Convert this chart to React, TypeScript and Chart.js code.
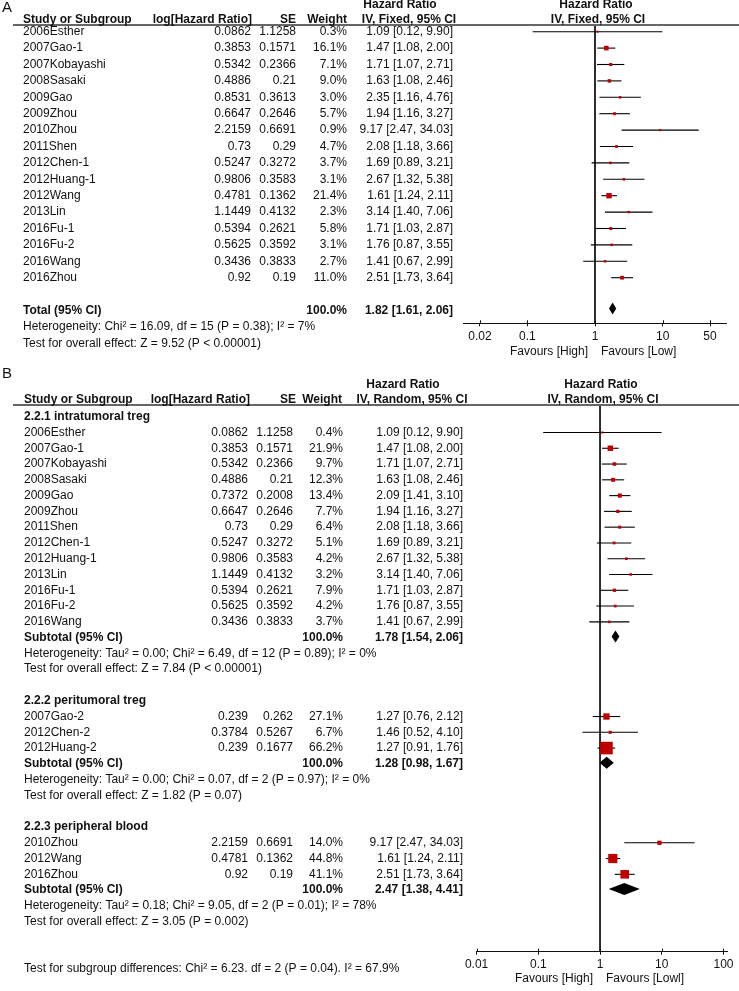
import React, { useEffect, useRef } from "react";
import { Chart, registerables } from "chart.js";
Chart.register(...registerables);

const FONT = "'Liberation Sans', Arial, Helvetica, sans-serif";
const INK = "#111111";
const RED = "#c00000";

// ---------- Panel A: IV, Fixed ----------
const studiesA = ["2006Esther", "2007Gao-1", "2007Kobayashi", "2008Sasaki", "2009Gao", "2009Zhou", "2010Zhou", "2011Shen", "2012Chen-1", "2012Huang-1", "2012Wang", "2013Lin", "2016Fu-1", "2016Fu-2", "2016Wang", "2016Zhou"];
const logHrA = [0.0862, 0.3853, 0.5342, 0.4886, 0.8531, 0.6647, 2.2159, 0.73, 0.5247, 0.9806, 0.4781, 1.1449, 0.5394, 0.5625, 0.3436, 0.92];
const seA = [1.1258, 0.1571, 0.2366, 0.21, 0.3613, 0.2646, 0.6691, 0.29, 0.3272, 0.3583, 0.1362, 0.4132, 0.2621, 0.3592, 0.3833, 0.19];
const weightA = [0.3, 16.1, 7.1, 9.0, 3.0, 5.7, 0.9, 4.7, 3.7, 3.1, 21.4, 2.3, 5.8, 3.1, 2.7, 11.0];
const hrA = [1.09, 1.47, 1.71, 1.63, 2.35, 1.94, 9.17, 2.08, 1.69, 2.67, 1.61, 3.14, 1.71, 1.76, 1.41, 2.51];
const loA = [0.12, 1.08, 1.07, 1.08, 1.16, 1.16, 2.47, 1.18, 0.89, 1.32, 1.24, 1.40, 1.03, 0.87, 0.67, 1.73];
const hiA = [9.90, 2.00, 2.71, 2.46, 4.76, 3.27, 34.03, 3.66, 3.21, 5.38, 2.11, 7.06, 2.87, 3.55, 2.99, 3.64];
const totalA = [1.82, 1.61, 2.06];
const hetA = "Heterogeneity: Chi² = 16.09, df = 15 (P = 0.38); I² = 7%";
const effectA = "Test for overall effect: Z = 9.52 (P < 0.00001)";
const ticksA = [0.02, 0.1, 1, 10, 50];
const tickLabelsA = ["0.02", "0.1", "1", "10", "50"];

// ---------- Panel B: IV, Random, by subgroup ----------
const groupNamesB = ["2.2.1 intratumoral treg", "2.2.2 peritumoral treg", "2.2.3 peripheral blood"];
const groupB = [0, 0, 0, 0, 0, 0, 0, 0, 0, 0, 0, 0, 0, 1, 1, 1, 2, 2, 2];
const studiesB = ["2006Esther", "2007Gao-1", "2007Kobayashi", "2008Sasaki", "2009Gao", "2009Zhou", "2011Shen", "2012Chen-1", "2012Huang-1", "2013Lin", "2016Fu-1", "2016Fu-2", "2016Wang", "2007Gao-2", "2012Chen-2", "2012Huang-2", "2010Zhou", "2012Wang", "2016Zhou"];
const logHrB = [0.0862, 0.3853, 0.5342, 0.4886, 0.7372, 0.6647, 0.73, 0.5247, 0.9806, 1.1449, 0.5394, 0.5625, 0.3436, 0.239, 0.3784, 0.239, 2.2159, 0.4781, 0.92];
const seB = [1.1258, 0.1571, 0.2366, 0.21, 0.2008, 0.2646, 0.29, 0.3272, 0.3583, 0.4132, 0.2621, 0.3592, 0.3833, 0.262, 0.5267, 0.1677, 0.6691, 0.1362, 0.19];
const weightB = [0.4, 21.9, 9.7, 12.3, 13.4, 7.7, 6.4, 5.1, 4.2, 3.2, 7.9, 4.2, 3.7, 27.1, 6.7, 66.2, 14.0, 44.8, 41.1];
const hrB = [1.09, 1.47, 1.71, 1.63, 2.09, 1.94, 2.08, 1.69, 2.67, 3.14, 1.71, 1.76, 1.41, 1.27, 1.46, 1.27, 9.17, 1.61, 2.51];
const loB = [0.12, 1.08, 1.07, 1.08, 1.41, 1.16, 1.18, 0.89, 1.32, 1.40, 1.03, 0.87, 0.67, 0.76, 0.52, 0.91, 2.47, 1.24, 1.73];
const hiB = [9.90, 2.00, 2.71, 2.46, 3.10, 3.27, 3.66, 3.21, 5.38, 7.06, 2.87, 3.55, 2.99, 2.12, 4.10, 1.76, 34.03, 2.11, 3.64];
const subHrB = [1.78, 1.28, 2.47];
const subLoB = [1.54, 0.98, 1.38];
const subHiB = [2.06, 1.67, 4.41];
const hetB = [
  "Heterogeneity: Tau² = 0.00; Chi² = 6.49, df = 12 (P = 0.89); I² = 0%",
  "Heterogeneity: Tau² = 0.00; Chi² = 0.07, df = 2 (P = 0.97); I² = 0%",
  "Heterogeneity: Tau² = 0.18; Chi² = 9.05, df = 2 (P = 0.01); I² = 78%",
];
const effectB = [
  "Test for overall effect: Z = 7.84 (P < 0.00001)",
  "Test for overall effect: Z = 1.82 (P = 0.07)",
  "Test for overall effect: Z = 3.05 (P = 0.002)",
];
const diffB = "Test for subgroup differences: Chi² = 6.23. df = 2 (P = 0.04). I² = 67.9%";
const ticksB = [0.01, 0.1, 1, 10, 100];
const tickLabelsB = ["0.01", "0.1", "1", "10", "100"];

// ---------- helpers ----------
const f2 = (v: number) => v.toFixed(2);
const ciText = (e: number, l: number, h: number) => `${f2(e)} [${f2(l)}, ${f2(h)}]`;
const wText = (w: number) => `${w.toFixed(1)}%`;
const boxSide = (w: number) => 2 + 0.16 * w;
const N12 = `12px ${FONT}`;
const B12 = `bold 12px ${FONT}`;
const AXIS_H = 30;
const TICK = 3;

// Panel B row layout
const rowsB = (() => {
  const header: number[] = [], sub: number[] = [], het: number[] = [], eff: number[] = [];
  const study: number[] = [];
  let r = 0;
  for (let g = 0; g < groupNamesB.length; g++) {
    header.push(r++);
    groupB.forEach((gg, i) => { if (gg === g) study[i] = r++; });
    sub.push(r++); het.push(r++); eff.push(r++);
    r++;
  }
  return { header, study, sub, het, eff, diff: r + 1 };
})();

type Spec = {
  width: number; height: number;
  left: number; right: number; top: number; bottom: number;
  xMin: number; xMax: number; yMin: number; yMax: number;
  ticks: number[]; tickLabels: string[];
  rows: number[]; hr: number[]; lo: number[]; hi: number[]; weight: number[];
  diamonds: { row: number; e: number; l: number; h: number }[];
  diamondDy: number;
  favHigh: string; favLow: string; favDy: number;
  text: (ctx: CanvasRenderingContext2D, Y: (r: number) => number) => void;
};

function build(canvas: HTMLCanvasElement, s: Spec) {
  const datasets: any[] = [];
  datasets.push({
    type: "scatter",
    data: s.hr.map((v, i) => ({ x: v, y: s.rows[i] })),
    pointStyle: "rect",
    pointRadius: s.weight.map((w) => boxSide(w) / Math.SQRT2),
    backgroundColor: RED,
    borderWidth: 0,
    order: 0,
    clip: false,
  });
  s.hr.forEach((_, i) => {
    datasets.push({
      type: "line",
      data: [{ x: s.lo[i], y: s.rows[i] }, { x: s.hi[i], y: s.rows[i] }],
      borderColor: "#000000",
      borderWidth: 1.1,
      pointRadius: 0,
      order: 1,
      clip: false,
    });
  });
  datasets.push({
    type: "line",
    data: [{ x: 1, y: s.yMin }, { x: 1, y: s.yMax }],
    borderColor: INK,
    borderWidth: 1,
    pointRadius: 0,
    order: 2,
    clip: false,
  });

  const textPlugin = {
    id: "forestText",
    afterDraw(chart: any) {
      const ctx: CanvasRenderingContext2D = chart.ctx;
      const xs = chart.scales.x, ys = chart.scales.y;
      const X = (v: number) => xs.getPixelForValue(v);
      const Y = (r: number) => ys.getPixelForValue(r);
      const area = chart.chartArea;
      ctx.save();
      // summary diamonds
      ctx.fillStyle = "#000000";
      s.diamonds.forEach((d) => {
        const y = Y(d.row) + s.diamondDy;
        ctx.beginPath();
        ctx.moveTo(X(d.l), y);
        ctx.lineTo(X(d.e), y - 6);
        ctx.lineTo(X(d.h), y);
        ctx.lineTo(X(d.e), y + 6);
        ctx.closePath();
        ctx.fill();
      });
      // upward half of tick marks (ticks cross the axis)
      ctx.strokeStyle = INK;
      ctx.lineWidth = 1;
      s.ticks.forEach((t) => {
        const x = Math.round(X(t)) + 0.5;
        ctx.beginPath();
        ctx.moveTo(x, area.bottom - TICK);
        ctx.lineTo(x, area.bottom);
        ctx.stroke();
      });
      // header separator
      ctx.strokeStyle = "#666666";
      ctx.lineWidth = 2;
      ctx.beginPath();
      ctx.moveTo(13, area.top);
      ctx.lineTo(s.width, area.top);
      ctx.stroke();
      // favours labels
      ctx.fillStyle = INK;
      ctx.textBaseline = "middle";
      ctx.font = N12;
      const x1 = X(1);
      ctx.textAlign = "right";
      ctx.fillText(s.favHigh, x1 - 7, area.bottom + s.favDy);
      ctx.textAlign = "left";
      ctx.fillText(s.favLow, x1 + 6, area.bottom + s.favDy);
      s.text(ctx, Y);
      ctx.restore();
    },
  };

  return new Chart(canvas, {
    type: "scatter",
    data: { datasets },
    options: {
      responsive: false,
      animation: false,
      devicePixelRatio: 1,
      events: [],
      layout: {
        padding: {
          left: s.left,
          right: s.width - s.right,
          top: s.top,
          bottom: s.height - s.bottom - AXIS_H,
        },
      },
      plugins: { legend: { display: false }, tooltip: { enabled: false } },
      scales: {
        x: {
          type: "logarithmic",
          position: "bottom",
          min: s.xMin,
          max: s.xMax,
          bounds: "data",
          afterBuildTicks: (sc: any) => {
            sc.ticks = s.ticks.map((v) => ({ value: v }));
          },
          afterFit: (sc: any) => {
            sc.height = AXIS_H;
          },
          ticks: {
            autoSkip: false,
            maxRotation: 0,
            padding: 3,
            color: INK,
            font: { family: FONT, size: 12 },
            callback: (_v: any, i: number) => s.tickLabels[i],
          },
          grid: { drawOnChartArea: false, drawTicks: true, tickLength: TICK, color: INK, lineWidth: 1 },
          border: { display: true, color: INK, width: 1 },
        },
        y: { type: "linear", reverse: true, min: s.yMin, max: s.yMax, display: false },
      },
    } as any,
    plugins: [textPlugin],
  });
}

// ---------- specs ----------
const rowsA = studiesA.map((_, i) => i);
const specA: Spec = {
  width: 739, height: 360,
  left: 463, right: 726, top: 25, bottom: 323.3,
  xMin: 0.01122, xMax: 86.1,
  yMin: (25 - 31.7) / 16.4, yMax: (323.3 - 31.7) / 16.4,
  ticks: ticksA, tickLabels: tickLabelsA,
  rows: rowsA, hr: hrA, lo: loA, hi: hiA, weight: weightA,
  diamonds: [{ row: 17, e: totalA[0], l: totalA[1], h: totalA[2] }],
  diamondDy: -2,
  favHigh: "Favours [High]", favLow: "Favours [Low]", favDy: 28.5,
  text: (ctx, Y) => {
    ctx.fillStyle = INK;
    ctx.textBaseline = "middle";
    ctx.font = `15px ${FONT}`;
    ctx.textAlign = "left";
    ctx.fillText("A", 2, 8);
    ctx.font = B12;
    ctx.textAlign = "center";
    ctx.fillText("Hazard Ratio", 400, 5);
    ctx.fillText("IV, Fixed, 95% CI", 409, 19.5);
    ctx.fillText("Hazard Ratio", 596, 5);
    ctx.fillText("IV, Fixed, 95% CI", 598, 19.5);
    ctx.textAlign = "left";
    ctx.fillText("Study or Subgroup", 23, 19.5);
    ctx.textAlign = "right";
    ctx.fillText("log[Hazard Ratio]", 252, 19.5);
    ctx.fillText("SE", 296, 19.5);
    ctx.fillText("Weight", 347, 19.5);
    ctx.font = N12;
    studiesA.forEach((name, i) => {
      const y = Y(rowsA[i]);
      ctx.textAlign = "left";
      ctx.fillText(name, 23, y);
      ctx.textAlign = "right";
      ctx.fillText(String(logHrA[i]), 251, y);
      ctx.fillText(String(seA[i]), 296, y);
      ctx.fillText(wText(weightA[i]), 347, y);
      ctx.fillText(ciText(hrA[i], loA[i], hiA[i]), 453, y);
    });
    ctx.font = B12;
    ctx.textAlign = "left";
    ctx.fillText("Total (95% CI)", 23, Y(17));
    ctx.textAlign = "right";
    ctx.fillText("100.0%", 347, Y(17));
    ctx.fillText(ciText(totalA[0], totalA[1], totalA[2]), 453, Y(17));
    ctx.font = N12;
    ctx.textAlign = "left";
    ctx.fillText(hetA, 23, Y(18));
    ctx.fillText(effectA, 23, Y(19));
  },
};

const B_ROW0 = 56.7, B_STEP = 15.78;
const specB: Spec = {
  width: 739, height: 631,
  left: 476, right: 727, top: 45, bottom: 591.7,
  xMin: 0.00978, xMax: 114,
  yMin: (45 - B_ROW0) / B_STEP, yMax: (591.7 - B_ROW0) / B_STEP,
  ticks: ticksB, tickLabels: tickLabelsB,
  rows: rowsB.study, hr: hrB, lo: loB, hi: hiB, weight: weightB,
  diamonds: subHrB.map((e, g) => ({ row: rowsB.sub[g], e, l: subLoB[g], h: subHiB[g] })),
  diamondDy: -1,
  favHigh: "Favours [High]", favLow: "Favours [Lowl]", favDy: 26.5,
  text: (ctx, Y) => {
    ctx.fillStyle = INK;
    ctx.textBaseline = "middle";
    ctx.font = `15px ${FONT}`;
    ctx.textAlign = "left";
    ctx.fillText("B", 2, 14);
    ctx.font = B12;
    ctx.textAlign = "center";
    ctx.fillText("Hazard Ratio", 403, 25);
    ctx.fillText("IV, Random, 95% CI", 412, 40);
    ctx.fillText("Hazard Ratio", 601, 25);
    ctx.fillText("IV, Random, 95% CI", 603, 40);
    ctx.textAlign = "left";
    ctx.fillText("Study or Subgroup", 24, 40);
    ctx.textAlign = "right";
    ctx.fillText("log[Hazard Ratio]", 250, 40);
    ctx.fillText("SE", 296, 40);
    ctx.fillText("Weight", 342, 40);
    groupNamesB.forEach((gname, g) => {
      ctx.font = B12;
      ctx.textAlign = "left";
      ctx.fillText(gname, 24, Y(rowsB.header[g]));
      ctx.fillText("Subtotal (95% CI)", 24, Y(rowsB.sub[g]));
      ctx.textAlign = "right";
      ctx.fillText("100.0%", 343, Y(rowsB.sub[g]));
      ctx.fillText(ciText(subHrB[g], subLoB[g], subHiB[g]), 463, Y(rowsB.sub[g]));
      ctx.font = N12;
      ctx.textAlign = "left";
      ctx.fillText(hetB[g], 24, Y(rowsB.het[g]));
      ctx.fillText(effectB[g], 24, Y(rowsB.eff[g]));
    });
    ctx.font = N12;
    studiesB.forEach((name, i) => {
      const y = Y(rowsB.study[i]);
      ctx.textAlign = "left";
      ctx.fillText(name, 24, y);
      ctx.textAlign = "right";
      ctx.fillText(String(logHrB[i]), 248, y);
      ctx.fillText(String(seB[i]), 293, y);
      ctx.fillText(wText(weightB[i]), 343, y);
      ctx.fillText(ciText(hrB[i], loB[i], hiB[i]), 463, y);
    });
    ctx.textAlign = "left";
    ctx.fillText(diffB, 24, Y(rowsB.diff));
  },
};

export default function App() {
  const refA = useRef<HTMLCanvasElement>(null);
  const refB = useRef<HTMLCanvasElement>(null);
  useEffect(() => {
    const a = build(refA.current!, specA);
    const b = build(refB.current!, specB);
    return () => {
      a.destroy();
      b.destroy();
    };
  }, []);
  return (
    <div style={{ position: "absolute", left: 0, top: 0, width: 739, height: 991, background: "#ffffff" }}>
      <canvas ref={refA} width={739} height={360} style={{ position: "absolute", left: 0, top: 0 }} />
      <canvas ref={refB} width={739} height={631} style={{ position: "absolute", left: 0, top: 360 }} />
    </div>
  );
}
